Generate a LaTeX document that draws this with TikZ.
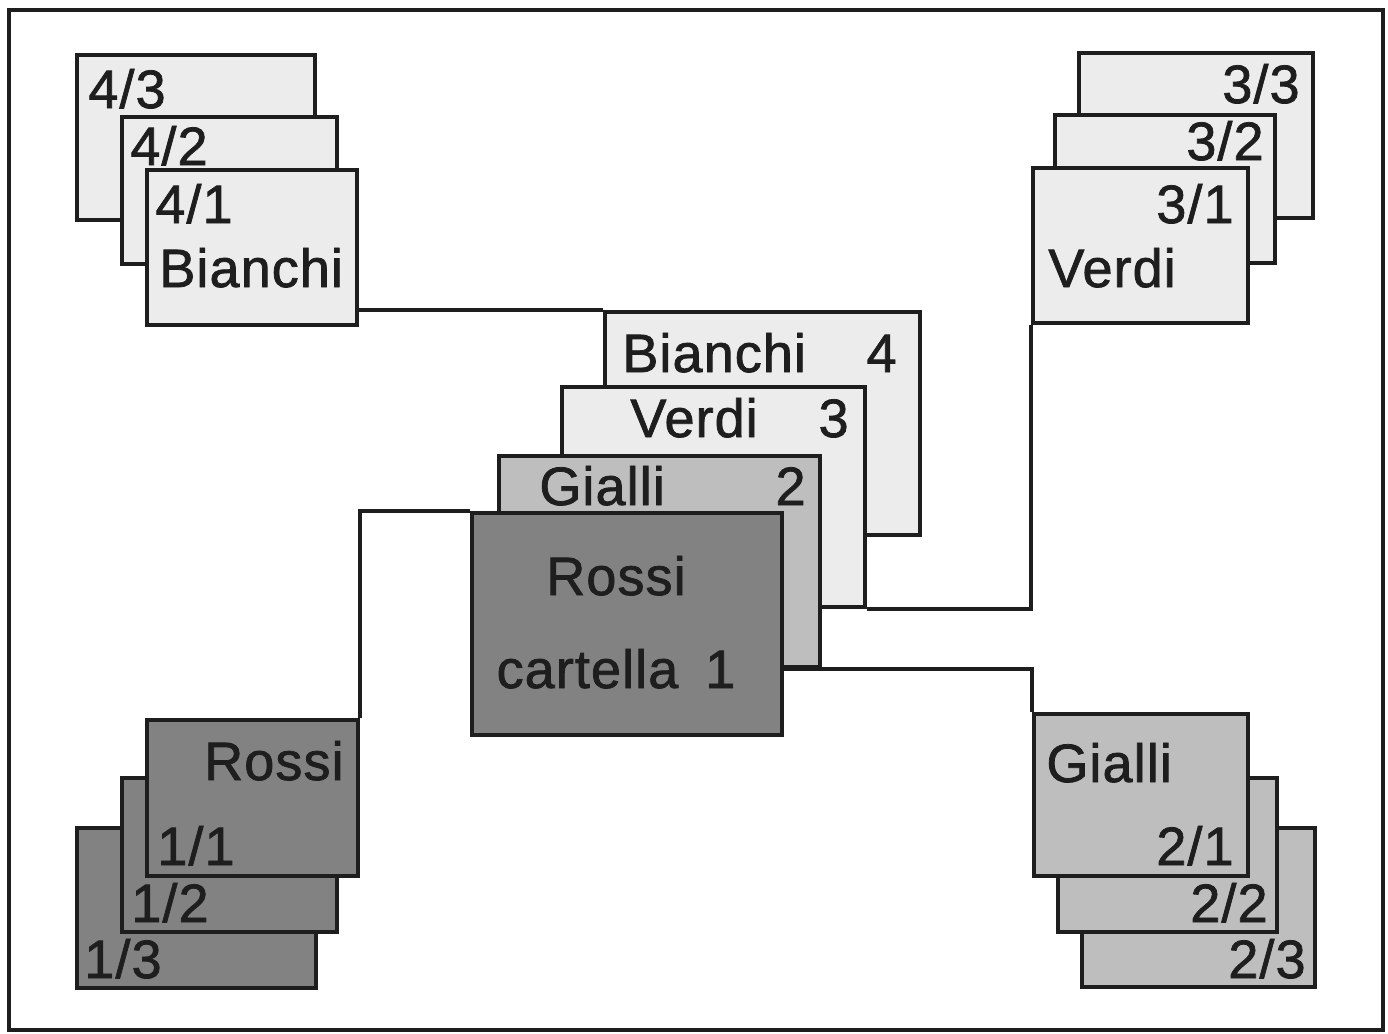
\documentclass[tikz,border=0pt]{standalone}
\usepackage{fontspec}
\setmainfont{Liberation Sans}[LetterSpace=2, FakeBold=1.4]
\usetikzlibrary{fit}
\definecolor{ink}{HTML}{1E1E1E}
\definecolor{paleg}{HTML}{ECECEC}
\definecolor{midg}{HTML}{BEBEBE}
\definecolor{darkg}{HTML}{828282}
\tikzset{
  card/.style={draw=ink, line width=1.8pt, inner sep=0pt, rectangle},
  palecard/.style={card, fill=paleg},
  midcard/.style={card, fill=midg},
  darkcard/.style={card, fill=darkg},
  lbl/.style={inner sep=0pt, text=ink, font=\fontsize{27}{27}\selectfont},
  lw/.style={lbl, anchor=base west},
  le/.style={lbl, anchor=base east},
  link/.style={draw=ink, line width=1.8pt},
}
\begin{document}
\begin{tikzpicture}[x=0.5pt, y=-0.5pt]
\useasboundingbox (0,0) rectangle (1388,1034);
\fill[white] (0,0) rectangle (1388,1034);
\draw[ink, line width=2pt] (9,10) rectangle (1383,1030);

% Bianchi folder, cards 4/3 .. 4/1 (top left)
\node[palecard, fit={(77,55) (315,220)}] (b43) {};
\node[lw] (t43) at (88,108) {4/3};
\node[palecard, fit={(122,117) (337,264)}] (b42) {};
\node[lw] (t42) at (130,165) {4/2};
\node[palecard, fit={(147,170) (357,325)}] (b41) {};
\node[lw] (t41) at (155,223) {4/1};
\node[lw] (t41n) at (159,287) {Bianchi};

% Verdi folder, cards 3/3 .. 3/1 (top right)
\node[palecard, fit={(1079,53) (1313,218)}] (v33) {};
\node[le] (t33) at (1300,103) {3/3};
\node[palecard, fit={(1055,115) (1275,263)}] (v32) {};
\node[le] (t32) at (1264,160) {3/2};
\node[palecard, fit={(1033,168) (1248,323)}] (v31) {};
\node[le] (t31) at (1234,223) {3/1};
\node[lw] (t31n) at (1048,287) {Verdi};

% Gialli folder, cards 2/3 .. 2/1 (bottom right)
\node[midcard, fit={(1082,828) (1315,987)}] (g23) {};
\node[le] (t23) at (1306,978) {2/3};
\node[midcard, fit={(1058,778) (1277,932)}] (g22) {};
\node[le] (t22) at (1268,922) {2/2};
\node[midcard, fit={(1034,714) (1248,876)}] (g21) {};
\node[le] (t21) at (1234,865) {2/1};
\node[lw] (t21n) at (1046,782) {Gialli};

% Rossi folder, cards 1/3 .. 1/1 (bottom left)
\node[darkcard, fit={(77,828) (316,988)}] (r13) {};
\node[lw] (t13) at (84,978) {1/3};
\node[darkcard, fit={(122,778) (337,932)}] (r12) {};
\node[lw] (t12) at (131,922) {1/2};
\node[darkcard, fit={(147,720) (358,876)}] (r11) {};
\node[lw] (t11) at (157,865) {1/1};
\node[le] (t11n) at (344,780) {Rossi};

% central index: one card per folder
\node[palecard, fit={(605,312) (920,535)}] (cb) {};
\node[lw] (tcb) at (622,372) {Bianchi};
\node[le] (ncb) at (897,372) {4};
\node[palecard, fit={(562,387) (865,607)}] (cv) {};
\node[lw] (tcv) at (630,437) {Verdi};
\node[le] (ncv) at (849,437) {3};
\node[midcard, fit={(499,456) (820,667)}] (cg) {};
\node[lw] (tcg) at (539,505) {Gialli};
\node[le] (ncg) at (806,505) {2};
\node[darkcard, fit={(472,513) (782,735)}] (cr) {};
\node[lbl, anchor=base] (tcr) at (616,595) {Rossi};
\node[lbl, anchor=base] (tcr2) at (616,688) {cartella\hspace{0.5em}1};

% links from the index cards to the folders
\draw[link] (b41.east |- cb.north) -- (cb.north west);
\draw[link] (r11.north east) |- (cr.north west);
\draw[link] (v31.south west) |- (cv.south east);
\draw[link] (g21.north west) |- (cr.east |- cg.south);
\end{tikzpicture}
\end{document}
